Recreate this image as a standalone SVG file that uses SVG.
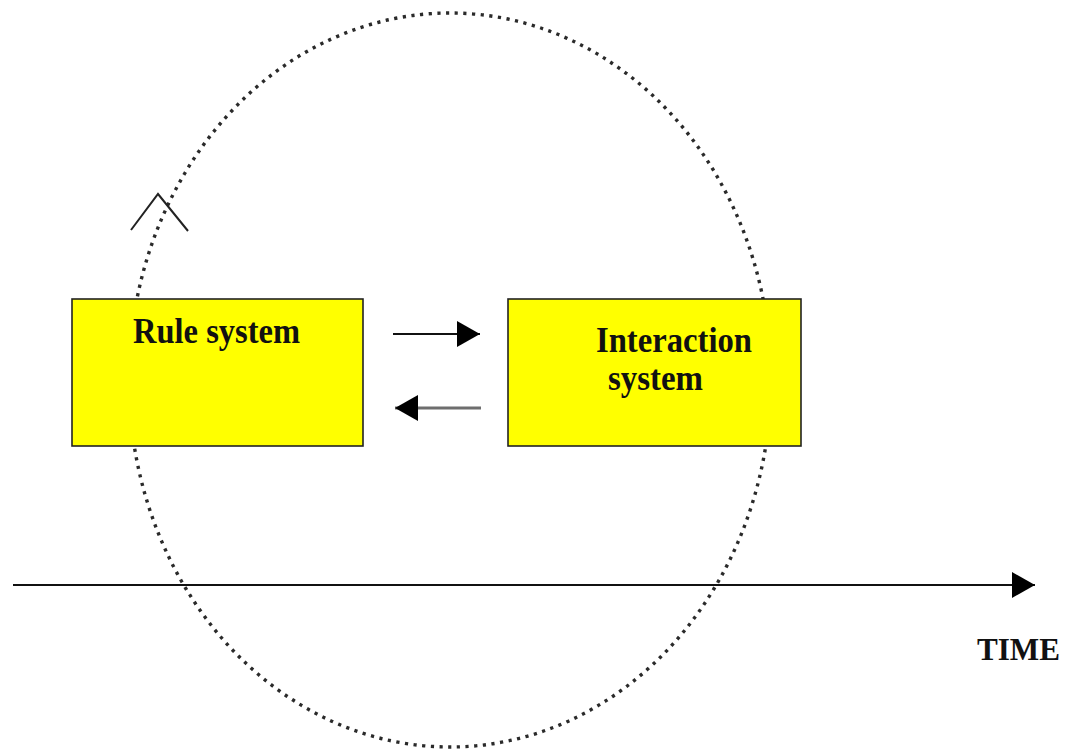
<svg xmlns="http://www.w3.org/2000/svg" width="1067" height="754" viewBox="0 0 1067 754">
  <style>
    .box { fill: #ffff00; stroke: #222; stroke-width: 1.6; }
    .lbl { font-family: "Liberation Serif", "Times New Roman", serif; font-weight: bold; fill: #111; font-size: 36px; }
    .conn { stroke: #111; stroke-width: 2; fill: none; }
    .dotted { fill: none; stroke: #2a2a2a; stroke-width: 3.4; stroke-dasharray: 3.2 5.5; }
  </style>
  <defs>
    <marker id="head" markerUnits="userSpaceOnUse" markerWidth="24" markerHeight="27" refX="23" refY="13" orient="auto">
      <path d="M0,0 L23,13 L0,26 z" fill="#000"/>
    </marker>
  </defs>
  <rect width="1067" height="754" fill="#ffffff"/>
  <g id="cycle">
    <ellipse class="dotted" cx="450" cy="380" rx="321" ry="367"/>
    <polyline points="131,230 158,194 188,231" fill="none" stroke="#222" stroke-width="2"/>
  </g>
  <g id="rule-system">
    <rect class="box" x="72" y="299" width="291" height="147"/>
    <text class="lbl" x="133" y="343" textLength="167" lengthAdjust="spacingAndGlyphs">Rule system</text>
  </g>
  <g id="interaction-system">
    <rect class="box" x="508" y="299" width="293" height="147"/>
    <text class="lbl" x="596" y="352" textLength="156" lengthAdjust="spacingAndGlyphs">Interaction</text>
    <text class="lbl" x="608" y="390" textLength="95" lengthAdjust="spacingAndGlyphs">system</text>
  </g>
  <g id="connectors">
    <line class="conn" x1="393" y1="334" x2="480" y2="334" marker-end="url(#head)"/>
    <line class="conn" x1="481" y1="408" x2="395" y2="408" style="stroke:#6e6e6e;stroke-width:3" marker-end="url(#head)"/>
    <line class="conn" x1="13" y1="585" x2="1035" y2="585" marker-end="url(#head)"/>
  </g>
  <g id="time-label">
    <text class="lbl" style="font-size:32px" x="977" y="660" textLength="83" lengthAdjust="spacingAndGlyphs">TIME</text>
  </g>
</svg>
